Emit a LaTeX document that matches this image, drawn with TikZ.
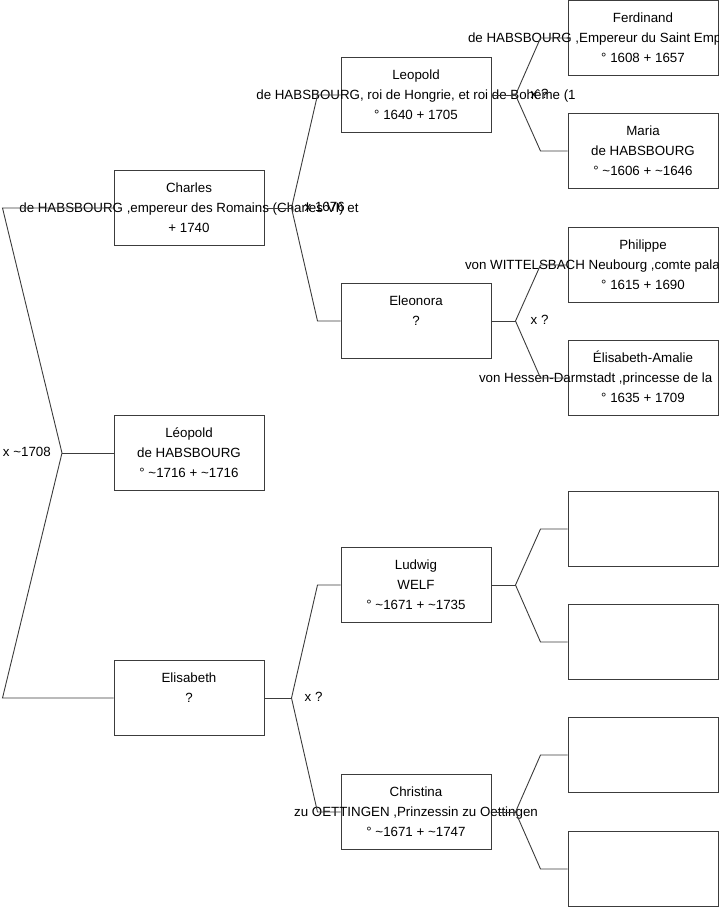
\documentclass[tikz,border=0pt]{standalone}
\usepackage{fontspec}
\setmainfont{Liberation Sans}
\usetikzlibrary{positioning}
\definecolor{boxline}{RGB}{60,60,60}
\newcommand{\persline}[1]{\makebox[0pt]{\strut #1}}
\newcommand{\wideline}[2]{\makebox[0pt]{\makebox[#1][l]{\strut #2}}}
\tikzset{
  personbox/.style={draw=boxline, line width=1pt, minimum width=150pt, minimum height=75pt,
    inner sep=0pt, align=center, font=\fontsize{13.33}{20}\selectfont},
  link/.style={draw=boxline, line width=0.9pt},
  marriage/.style={inner sep=0pt, font=\fontsize{13.33}{20}\selectfont}
}

\begin{document}
\begin{tikzpicture}[x=1pt, y=-1pt]
    \useasboundingbox (0,0) rectangle (719,908);
    \clip (0,0) rectangle (719,908);
    % Generation 1
    \node[personbox] (charles) at (189,208) {\persline{Charles}\\\persline{de HABSBOURG ,empereur des Romains (Charles VI) et}\\\persline{+ 1740}};
    \node[personbox] (leopoldjr) at (189,453) {\persline{Léopold}\\\persline{de HABSBOURG}\\\persline{° \textasciitilde1716 + \textasciitilde1716}};
    \node[personbox] (elisabeth) at (189,698) {\persline{Elisabeth}\\\persline{?}\\\persline{}};
    % Generation 2
    \node[personbox] (leopold) at (416,95) {\persline{Leopold}\\\persline{de HABSBOURG, roi de Hongrie, et roi de Bohême (1}\\\persline{° 1640 + 1705}};
    \node[personbox] (eleonora) at (416,321) {\persline{Eleonora}\\\persline{?}\\\persline{}};
    \node[personbox] (ludwig) at (416,585) {\persline{Ludwig}\\\persline{WELF}\\\persline{° \textasciitilde1671 + \textasciitilde1735}};
    \node[personbox] (christina) at (416,812) {\persline{Christina}\\\persline{zu OETTINGEN ,Prinzessin zu Oettingen}\\\persline{° \textasciitilde1671 + \textasciitilde1747}};
    % Generation 3
    \node[personbox] (ferdinand) at (643,38) {\persline{Ferdinand}\\\wideline{350pt}{de HABSBOURG ,Empereur du Saint Emp}\\\persline{° 1608 + 1657}};
    \node[personbox] (maria) at (643,151) {\persline{Maria}\\\persline{de HABSBOURG}\\\persline{° \textasciitilde1606 + \textasciitilde1646}};
    \node[personbox] (philippe) at (643,265) {\persline{Philippe}\\\wideline{356pt}{von WITTELSBACH Neubourg ,comte pala}\\\persline{° 1615 + 1690}};
    \node[personbox] (amalie) at (643,378) {\persline{Élisabeth-Amalie}\\\wideline{328pt}{von Hessen-Darmstadt ,princesse de la}\\\persline{° 1635 + 1709}};
    \node[personbox] (ludwigfa) at (643,529) {};
    \node[personbox] (ludwigmo) at (643,642) {};
    \node[personbox] (christinafa) at (643,755) {};
    \node[personbox] (christinamo) at (643,869) {};
    % Charles x Elisabeth, child Leopold
    \coordinate (fork0) at (62,453);
    \coordinate (top0) at ([xshift=-111pt]charles.west);
    \coordinate (bot0) at ([xshift=-111pt]elisabeth.west);
    \draw[link] (charles.west) -- (top0) -- (fork0) -- (bot0) -- (elisabeth.west);
    \draw[link] (fork0) -- (leopoldjr.west);
    \node[marriage, anchor=east] (wed0) at ([xshift=-11pt, yshift=1pt]fork0) {x \textasciitilde1708};
    % Parents of Charles
    \coordinate (fork1) at ([xshift=27pt]charles.east);
    \draw[link] (charles.east) -- (fork1);
    \draw[link] (fork1) -- ([xshift=-23pt]leopold.west) -- (leopold.west);
    \draw[link] (fork1) -- ([xshift=-23pt]eleonora.west) -- (eleonora.west);
    \node[marriage, anchor=west] (wed1) at ([xshift=13pt, yshift=1pt]fork1) {x 1676};
    % Parents of Elisabeth
    \coordinate (fork2) at ([xshift=27pt]elisabeth.east);
    \draw[link] (elisabeth.east) -- (fork2);
    \draw[link] (fork2) -- ([xshift=-23pt]ludwig.west) -- (ludwig.west);
    \draw[link] (fork2) -- ([xshift=-23pt]christina.west) -- (christina.west);
    \node[marriage, anchor=west] (wed2) at ([xshift=13pt, yshift=1pt]fork2) {x ?};
    % Parents of Leopold
    \coordinate (fork3) at ([xshift=24pt]leopold.east);
    \draw[link] (leopold.east) -- (fork3);
    \draw[link] (fork3) -- ([xshift=-27pt]ferdinand.west) -- (ferdinand.west);
    \draw[link] (fork3) -- ([xshift=-27pt]maria.west) -- (maria.west);
    \node[marriage, anchor=west] (wed3) at ([xshift=15pt, yshift=1pt]fork3) {x ?};
    % Parents of Eleonora
    \coordinate (fork4) at ([xshift=24pt]eleonora.east);
    \draw[link] (eleonora.east) -- (fork4);
    \draw[link] (fork4) -- ([xshift=-27pt]philippe.west) -- (philippe.west);
    \draw[link] (fork4) -- ([xshift=-27pt]amalie.west) -- (amalie.west);
    \node[marriage, anchor=west] (wed4) at ([xshift=15pt, yshift=1pt]fork4) {x ?};
    % Parents of Ludwig
    \coordinate (fork5) at ([xshift=24pt]ludwig.east);
    \draw[link] (ludwig.east) -- (fork5);
    \draw[link] (fork5) -- ([xshift=-27pt]ludwigfa.west) -- (ludwigfa.west);
    \draw[link] (fork5) -- ([xshift=-27pt]ludwigmo.west) -- (ludwigmo.west);
    % Parents of Christina
    \coordinate (fork6) at ([xshift=24pt]christina.east);
    \draw[link] (christina.east) -- (fork6);
    \draw[link] (fork6) -- ([xshift=-27pt]christinafa.west) -- (christinafa.west);
    \draw[link] (fork6) -- ([xshift=-27pt]christinamo.west) -- (christinamo.west);
\end{tikzpicture}
\end{document}
